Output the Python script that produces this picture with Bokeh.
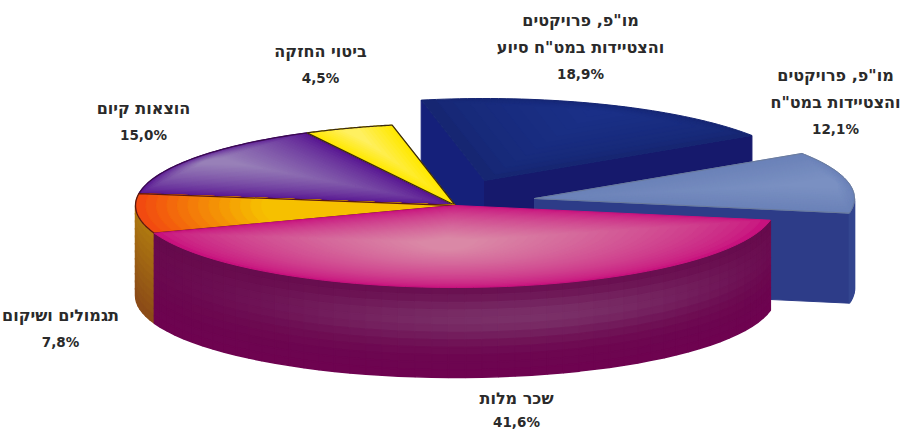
import numpy as np
from bokeh.plotting import figure
from bokeh.embed import file_html
from bokeh.resources import INLINE
from bokeh.core.properties import value

# ---- data ----
names = ["magenta", "orange", "purple", "yellow", "navy", "blue"]
shares = [41.6, 7.8, 15.0, 4.5, 18.9, 12.1]
label_lines = [
    ["שכר מלות"],
    ["תגמולים ושיקום"],
    ["הוצאות קיום"],
    ["ביטוי החזקה"],
    ["מו\"פ, פרויקטים", "והצטיידות במט\"ח סיוע"],
    ["מו\"פ, פרויקטים", "והצטיידות במט\"ח"],
]
share_labels = ["41,6%", "7,8%", "15,0%", "4,5%", "18,9%", "12,1%"]

# ---- geometry / style ----
CX, CY, A, B, DEPTH = 455, 205, 320, 82, 90
START = -10.3
explode = {"navy": (29, -25), "blue": (79, -7)}
label_pos = {
    "magenta": (516, 398), "orange": (60, 315), "purple": (143, 108),
    "yellow": (320, 51), "navy": (580, 20), "blue": (835, 75),
}
LINE_H = 26.5
FONT = value("DejaVu Sans")

p = figure(width=903, height=430, x_range=(0, 903), y_range=(430, 0),
           toolbar_location=None, output_backend="svg", min_border=0)
p.axis.visible = False
p.grid.visible = False
p.outline_line_color = None
p.background_fill_color = "#ffffff"
p.border_fill_color = "#ffffff"


def hexmix(c1, c2, t):
    a = [int(c1[i:i + 2], 16) for i in (1, 3, 5)]
    b = [int(c2[i:i + 2], 16) for i in (1, 3, 5)]
    return "#%02x%02x%02x" % tuple(int(round(u + (v - u) * t)) for u, v in zip(a, b))


def ell(theta, ox=0, oy=0, dz=0):
    t = np.radians(theta)
    return CX + ox + A * np.cos(t), CY + oy + dz - B * np.sin(t)


# clockwise spans per slice
total = sum(shares)
spans = {}
ang = START
for n, s in zip(names, shares):
    sweep = 360 * s / total
    spans[n] = (ang, ang - sweep)
    ang -= sweep


def wedge(n):
    t0, t1 = spans[n]
    ox, oy = explode.get(n, (0, 0))
    th = np.linspace(t0, t1, 50)
    x, y = ell(th, ox, oy)
    ax, ay = CX + ox, CY + oy
    return np.r_[ax, x], np.r_[ay, y], ax, ay


def poly(x, y, fill, line=None, w=1.0):
    p.patch(x, y, fill_color=fill, line_color=line or fill, line_width=w)


def shaded_top(n, outer, inner, steps=24, centre=None, squeeze=(1, 1), outline=None,
               gamma=1.0, oline_w=1.3):
    x, y, ax, ay = wedge(n)
    cx = x.mean() if centre is None else centre[0]
    cy = y.mean() if centre is None else centre[1]
    for i in range(steps):
        t = i / (steps - 1)
        sx = 1 - t * squeeze[0]
        sy = 1 - t * squeeze[1]
        poly(cx + (x - cx) * sx, cy + (y - cy) * sy, hexmix(outer, inner, t ** gamma))
    if outline:
        p.patch(x, y, fill_color=None, line_color=outline, line_width=oline_w)


def radial_top(n, outer, inner, steps=30, outline=None, reach=1.0):
    x, y, ax, ay = wedge(n)
    for i in range(steps):
        t = i / (steps - 1)
        s = 1 - 0.95 * t
        poly(ax + (x - ax) * s, ay + (y - ay) * s, hexmix(outer, inner, min(1.0, t / reach)))
    if outline:
        p.patch(x, y, fill_color=None, line_color=outline, line_width=1.3)


def cut_face(n, theta, fill):
    ox, oy = explode.get(n, (0, 0))
    x, y = ell(theta, ox, oy)
    ax, ay = CX + ox, CY + oy
    poly([ax, x, x, ax], [ay, y, y + DEPTH, ay + DEPTH], fill)


def side(n, t0, t1, colour_at, ncol=50, nrow=12):
    ox, oy = explode.get(n, (0, 0))
    th = np.linspace(t0, t1, ncol + 1)
    for i in range(ncol):
        xa, ya = ell(th[i], ox, oy)
        xb, yb = ell(th[i + 1], ox, oy)
        for j in range(nrow):
            z0, z1 = DEPTH * j / nrow, DEPTH * (j + 1) / nrow
            c = colour_at((i + .5) / ncol, (j + .5) / nrow)
            poly([xa, xb, xb, xa], [ya + z0, yb + z0, yb + z1, ya + z1], c, w=1.5)


# --- exploded navy slice (furthest back)
t0, t1 = spans["navy"]
cut_face("navy", t0, "#15207a")
cut_face("navy", t1, "#16196c")
shaded_top("navy", "#162672", "#1a3088", steps=12, gamma=.6)

# --- purple + yellow tops
shaded_top("purple", "#551090", "#9880b8", steps=26, squeeze=(.85, .9),
           outline="#3a0a50", gamma=.7)
shaded_top("yellow", "#ffe800", "#fff060", steps=10, squeeze=(.8, .8), outline="#3a2a10")

# --- exploded light blue slice
t0, t1 = spans["blue"]
cut_face("blue", t1, "#2d3c88")
side("blue", -360, t1, lambda u, v: "#33458f", ncol=6, nrow=1)
shaded_top("blue", "#6b82b8", "#7a90c2", steps=14, squeeze=(.8, .8), outline="#6a7894", oline_w=.8)

# --- orange side and top
t0, t1 = spans["orange"]
side("orange", t0, -180, lambda u, v: hexmix("#b07a10", "#8a4a18", v), ncol=8, nrow=12)
radial_top("orange", "#f24a10", "#f6c000", steps=30, outline="#5a1a10", reach=.4)


# --- magenta side + top
def magenta_side(u, v):
    base_top, base_bot = "#660a4c", "#6e0350"
    glow = np.exp(-((u - .55) / .3) ** 2) * np.exp(-((v - .36) / .25) ** 2)
    return hexmix(hexmix(base_top, base_bot, v), "#7a3068", float(glow))


t0, t1 = spans["magenta"]
side("magenta", t1, t0, magenta_side, ncol=50, nrow=12)
shaded_top("magenta", "#c8127e", "#da88a6", steps=30, squeeze=(.9, .85),
           centre=(CX - 10, CY + 38), gamma=.7)

# --- labels
for n, lines, pct in zip(names, label_lines, share_labels):
    lx, ly = label_pos[n]
    for i, t in enumerate(lines):
        p.text([lx], [ly + i * LINE_H], text=[t], text_font=FONT, text_font_size="16px",
               text_font_style="bold", text_color="#2a2a2a", text_align="center",
               text_baseline="middle")
    pct_y = min(ly + len(lines) * LINE_H, 421)
    p.text([lx], [pct_y], text=[pct], text_font=FONT, text_font_size="13.5px",
           text_font_style="bold", text_color="#2a2a2a", text_align="center",
           text_baseline="middle")

open("out.html", "w").write(file_html(p, INLINE))
